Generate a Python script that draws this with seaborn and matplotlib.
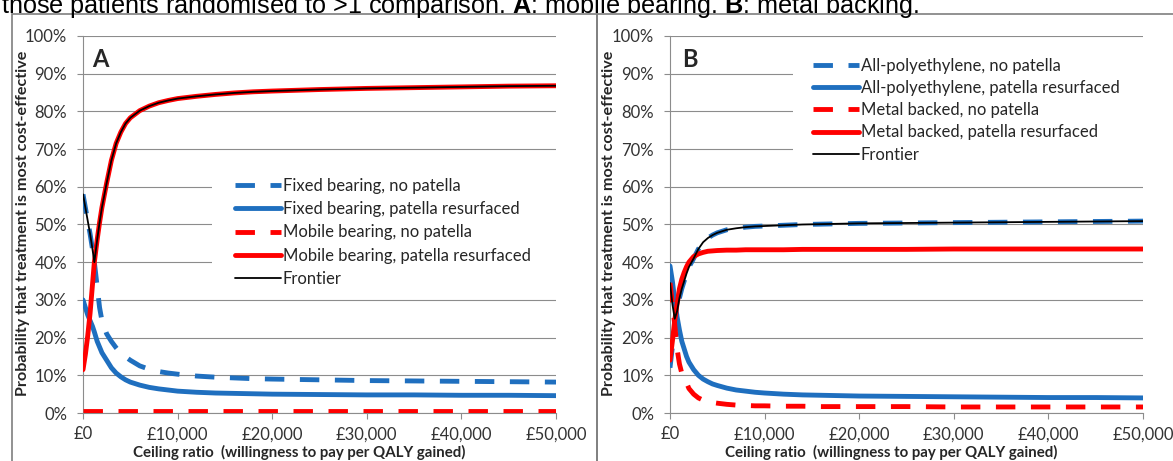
import matplotlib
matplotlib.use("Agg")
import matplotlib.pyplot as plt
import seaborn as sns
from matplotlib.patches import Rectangle
from matplotlib.lines import Line2D
from matplotlib.ticker import FuncFormatter, MultipleLocator

# ---------------------------------------------------------------------------
# Cost-effectiveness acceptability curves (probability, %) by ceiling ratio (£)
# ---------------------------------------------------------------------------
ceiling_a = [0, 250, 500, 750, 1000, 1200, 1500, 1750, 2000, 2500, 3000, 3500,
             4000, 4500, 5000, 6000, 7000, 8000, 9000, 10000, 12000, 14000,
             16000, 18000, 20000, 25000, 30000, 35000, 40000, 45000, 50000]

fixed_no_patella = [58, 54.5, 51, 47.5, 43.5, 40, 33.5, 28, 24.5, 21, 19, 17.3,
                    15.8, 14.9, 14, 12.5, 11.6, 11, 10.6, 10.3, 9.8, 9.5,
                    9.3, 9.1, 9.0, 8.8, 8.6, 8.5, 8.4, 8.3, 8.2]
fixed_resurfaced = [30, 28, 26, 24.5, 23, 21.5, 19, 17.5, 16, 14, 12, 10.6,
                    9.6, 8.8, 8.2, 7.4, 6.8, 6.4, 6.1, 5.8, 5.5, 5.3,
                    5.2, 5.1, 5.0, 4.9, 4.8, 4.8, 4.7, 4.7, 4.6]
mobile_no_patella = [0.5, 0.5, 0.5, 0.5, 0.5, 0.5, 0.5, 0.5, 0.5, 0.5, 0.5, 0.5,
                     0.5, 0.5, 0.5, 0.5, 0.5, 0.5, 0.5, 0.5, 0.5, 0.5,
                     0.5, 0.5, 0.5, 0.5, 0.5, 0.5, 0.5, 0.5, 0.5]
mobile_resurfaced = [11.5, 15.5, 20.5, 26.5, 34, 40, 46, 50.5, 54.5, 61, 67, 71.5,
                     74.5, 76.8, 78.3, 80.2, 81.4, 82.3, 82.9, 83.4, 84.0, 84.5,
                     84.9, 85.2, 85.4, 85.8, 86.1, 86.3, 86.5, 86.7, 86.8]
frontier_a = [58, 54.5, 51, 47.5, 43.5, 40, 46, 50.5, 54.5, 61, 67, 71.5,
              74.5, 76.8, 78.3, 80.2, 81.4, 82.3, 82.9, 83.4, 84.0, 84.5,
              84.9, 85.2, 85.4, 85.8, 86.1, 86.3, 86.5, 86.7, 86.8]

ceiling_b = [0, 250, 500, 750, 1000, 1250, 1500, 1750, 2000, 2500, 3000, 3500,
             4000, 4500, 5000, 6000, 7000, 8000, 9000, 10000, 12000, 14000,
             16000, 18000, 20000, 25000, 30000, 35000, 40000, 45000, 50000]

poly_no_patella = [12, 17.5, 23, 27, 30.5, 33, 35, 37, 38.7, 41, 43.5, 45.3,
                   46.4, 47.2, 47.8, 48.6, 49.0, 49.3, 49.5, 49.6, 49.8, 50.0,
                   50.1, 50.2, 50.3, 50.4, 50.5, 50.6, 50.7, 50.8, 50.9]
poly_resurfaced = [39, 35, 30, 25.5, 22, 19, 17, 15, 13.5, 11.5, 10, 9.0,
                   8.3, 7.7, 7.3, 6.6, 6.1, 5.8, 5.5, 5.3, 5.0, 4.8,
                   4.7, 4.6, 4.5, 4.4, 4.3, 4.2, 4.1, 4.1, 4.0]
metal_no_patella = [34.5, 29, 23.5, 17, 13, 10.5, 9, 8, 6.5, 5, 4, 3.4,
                    3.0, 2.8, 2.6, 2.3, 2.1, 2.0, 1.9, 1.9, 1.8, 1.8,
                    1.7, 1.7, 1.7, 1.7, 1.6, 1.6, 1.6, 1.6, 1.6]
metal_resurfaced = [14, 19, 24.5, 29, 33, 35.5, 37.3, 38.8, 40, 41.5, 42.2, 42.6,
                    42.9, 43.0, 43.1, 43.2, 43.2, 43.3, 43.3, 43.3, 43.3, 43.4,
                    43.4, 43.4, 43.4, 43.4, 43.5, 43.5, 43.5, 43.5, 43.5]
frontier_b = [34.5, 29, 25, 27, 30.5, 33, 35, 37, 38.7, 41, 43.5, 45.3,
              46.4, 47.2, 47.8, 48.6, 49.0, 49.3, 49.5, 49.6, 49.8, 50.0,
              50.1, 50.2, 50.3, 50.4, 50.5, 50.6, 50.7, 50.8, 50.9]

labels_a = ["Fixed bearing, no patella", "Fixed bearing, patella resurfaced",
            "Mobile bearing, no patella", "Mobile bearing, patella resurfaced",
            "Frontier"]
labels_b = ["All-polyethylene, no patella", "All-polyethylene, patella resurfaced",
            "Metal backed, no patella", "Metal backed, patella resurfaced",
            "Frontier"]

caption = ("those patients randomised to >1 comparison. $\\mathbf{A}$: mobile bearing. "
           "$\\mathbf{B}$: metal backing.")
y_title = "Probability that treatment is most cost-effective"
x_title = "Ceiling ratio  (willingness to pay per QALY gained)"

# ---------------------------------------------------------------------------
sns.set_style("white")
plt.rcParams["font.family"] = ["Lato", "DejaVu Sans"]
plt.rcParams["mathtext.fontset"] = "custom"
plt.rcParams["mathtext.rm"] = "Liberation Sans"
plt.rcParams["mathtext.bf"] = "Liberation Sans:bold"

W, H = 1173, 461
BLUE = "#1f6fbf"
RED = "#ff0000"
GRID = "#8c8c8c"
DASH = (0, (4.0, 3.2))
LW = 3.5
FRONT_LW = 1.3

fig = plt.figure(figsize=(W / 100, H / 100), dpi=100)


def fx(px):
    return px / W


def fy(py):
    return 1 - py / H


def axes_rect(x0, top, x1, bottom):
    return [fx(x0), fy(bottom), (x1 - x0) / W, (bottom - top) / H]


ax_a = fig.add_axes(axes_rect(83, 36, 556, 413))
ax_b = fig.add_axes(axes_rect(670, 36, 1143, 413))


def draw_panel(ax, ceiling, curves, frontier, labels):
    styles = [(BLUE, DASH), (BLUE, "-"), (RED, DASH), (RED, "-")]
    handles = []
    for values, (color, ls), label in zip(curves, styles, labels):
        sns.lineplot(x=ceiling, y=values, ax=ax, color=color, linewidth=LW,
                     linestyle=ls, errorbar=None, legend=False, zorder=3)
        handles.append(Line2D([], [], color=color, linewidth=LW, linestyle=ls,
                              label=label))
    sns.lineplot(x=ceiling, y=frontier, ax=ax, color="black", linewidth=FRONT_LW,
                 errorbar=None, legend=False, zorder=4)
    handles.append(Line2D([], [], color="black", linewidth=FRONT_LW,
                          label=labels[-1]))

    ax.set_xlim(0, 50000)
    ax.set_ylim(0, 100)
    ax.xaxis.set_major_locator(MultipleLocator(10000))
    ax.xaxis.set_major_formatter(FuncFormatter(lambda v, p: f"£{v:,.0f}"))
    ax.yaxis.set_major_locator(MultipleLocator(10))
    ax.yaxis.set_major_formatter(FuncFormatter(lambda v, p: f"{v:.0f}%"))
    ax.set_axisbelow(True)
    ax.grid(axis="y", color=GRID, linewidth=0.8)
    ax.grid(axis="x", visible=False)
    ax.tick_params(axis="both", direction="out", length=4.5, width=0.8,
                   color=GRID, labelsize=12, labelcolor="#333333",
                   bottom=True, left=True)
    ax.tick_params(axis="y", pad=7)
    ax.tick_params(axis="x", pad=5)
    for s in ("top", "right"):
        ax.spines[s].set_visible(False)
    for s in ("left", "bottom"):
        ax.spines[s].set_color(GRID)
        ax.spines[s].set_linewidth(0.8)
    ax.set_xlabel("")
    ax.set_ylabel("")
    return handles


handles_a = draw_panel(ax_a, ceiling_a,
                       [fixed_no_patella, fixed_resurfaced,
                        mobile_no_patella, mobile_resurfaced],
                       frontier_a, labels_a)
handles_b = draw_panel(ax_b, ceiling_b,
                       [poly_no_patella, poly_resurfaced,
                        metal_no_patella, metal_resurfaced],
                       frontier_b, labels_b)

# white backing behind each legend, hiding the gridlines there
for ax, (x0, top, x1, bottom) in ((ax_a, (212, 172, 556, 292)),
                                  (ax_b, (793, 45, 1143, 177))):
    ax.add_patch(Rectangle((fx(x0), fy(bottom)), (x1 - x0) / W, (bottom - top) / H,
                           transform=fig.transFigure, facecolor="white",
                           edgecolor="none", zorder=1, clip_on=False))

for ax, handles, (lx, ly), spacing in ((ax_a, handles_a, (235, 178), 0.43),
                                       (ax_b, handles_b, (813, 58), 0.37)):
    ax.legend(handles=handles, loc="upper left",
              bbox_to_anchor=(fx(lx), fy(ly)), bbox_transform=fig.transFigure,
              frameon=False, fontsize=12, handlelength=2.75, handletextpad=0.12,
              labelspacing=spacing, borderpad=0, borderaxespad=0)

# panel letters
fig.text(fx(92), fy(66.7), "A", fontsize=17, fontweight="bold", va="baseline")
fig.text(fx(682), fy(66.7), "B", fontsize=17, fontweight="bold", va="baseline")

# axis titles
for xc in (23, 609):
    fig.text(fx(xc), fy(223), y_title, rotation=90, ha="center", va="center",
             fontsize=11.6, fontweight="bold")
for xc in (299, 891):
    fig.text(fx(xc), fy(452), x_title, ha="center", va="center",
             fontsize=10.8, fontweight="bold")

# panel frames
fig.add_artist(Rectangle((fx(12), -0.1), (597 - 12) / W, fy(14) + 0.1,
                         transform=fig.transFigure, fill=False,
                         edgecolor="#7f7f7f", linewidth=1.2))
fig.add_artist(Rectangle((fx(597), -0.1), (1250 - 597) / W, fy(14) + 0.1,
                         transform=fig.transFigure, fill=False,
                         edgecolor="#7f7f7f", linewidth=1.2))

# caption line above the panels
fig.text(fx(1), fy(13), caption, fontsize=18.2, family="Liberation Sans",
         va="baseline", color="black")

fig.savefig("out.png", dpi=100)
